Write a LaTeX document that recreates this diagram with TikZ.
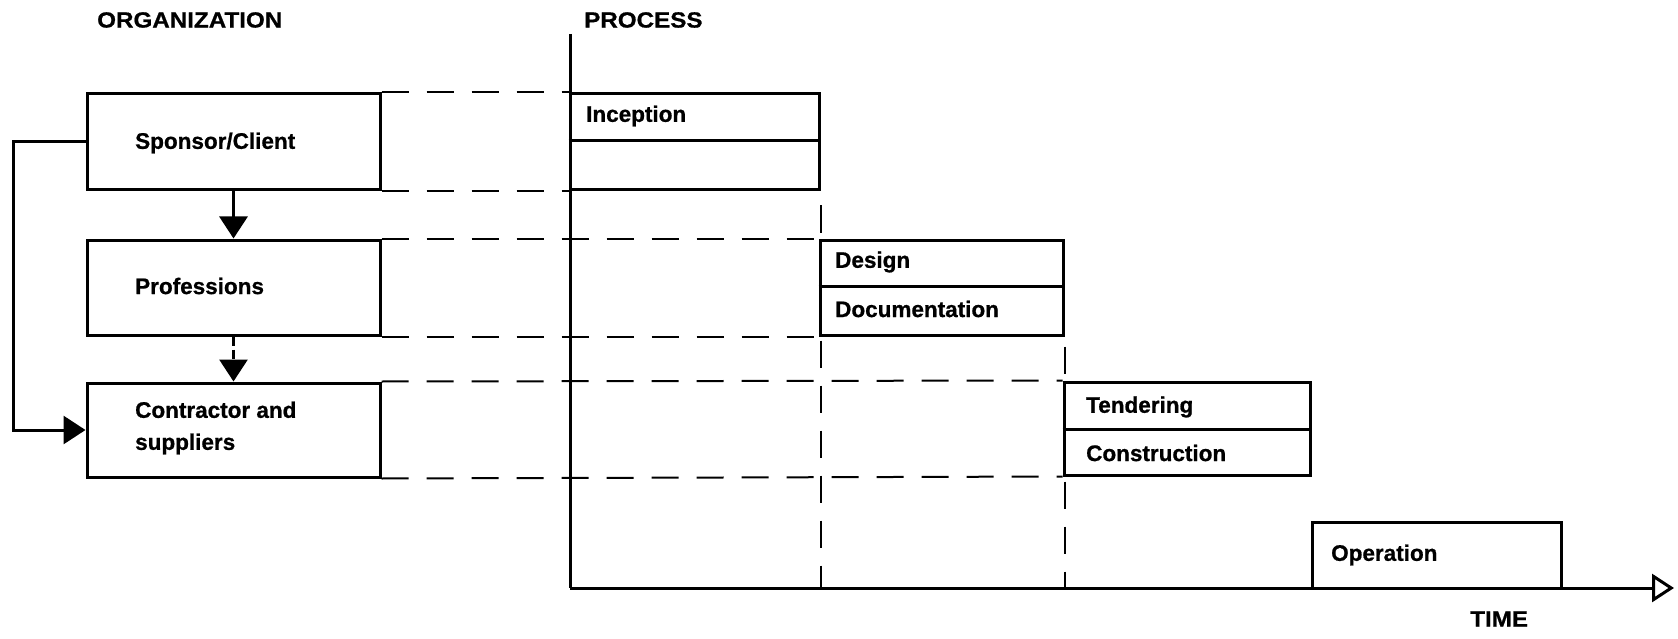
\documentclass[tikz,border=0pt]{standalone}
\usepackage{fontspec}
\setmainfont{Liberation Sans}[BoldFeatures={FakeBold=0.8}]
\newfontfamily\headfont{Liberation Sans}[BoldFeatures={FakeBold=0.8,FakeStretch=1.1}]
\usetikzlibrary{arrows.meta}
\begin{document}
\begin{tikzpicture}[x=1pt,y=-1pt,
  font=\fontsize{22.5}{27}\selectfont\bfseries,
  box/.style={draw, line width=3pt, inner sep=0pt},
  lbl/.style={anchor=west, inner sep=0pt},
  head/.style={lbl, font=\headfont\fontsize{22}{26}\selectfont\bfseries},
  guide/.style={line width=2pt, dash pattern=on 27pt off 18pt},
  axis/.style={line width=3pt},
  flow/.style={line width=3pt, -{Triangle[length=22pt,width=28pt]}}]
\useasboundingbox (0,0) rectangle (1678,639);

% headings
\node[head] (orghead) at (97,20) {ORGANIZATION};
\node[head] (prochead) at (584,20) {PROCESS};
\node[head] (timehead) at (1470,619) {TIME};

% process / time axes
\coordinate (axtop) at (570,34);
\coordinate (origin) at (570,588);
\coordinate (axend) at (1674,588);
\draw[axis] (axtop) -- (origin);
\draw[axis, -{Triangle[open,length=22pt,width=28pt,line width=3pt]}] (origin) -- (axend);

% organization boxes
\node[box, minimum width=293pt, minimum height=96pt] (spon) at (233.5,142) {};
\node[box, minimum width=293pt, minimum height=95pt] (prof) at (233.5,287.5) {};
\node[box, minimum width=293pt, minimum height=94pt] (cont) at (233.5,430) {};
\node[lbl] (spont) at (135,143) {Sponsor/Client};
\node[lbl] (proft) at (135,286) {Professions};
\node[lbl, align=left, font=\fontsize{22.5}{32}\selectfont\bfseries] (contt) at (135,428) {Contractor and\\suppliers};

% process stages
\node[box, minimum width=249pt, minimum height=96pt] (inc) at (694.5,142) {};
\node[box, minimum width=243pt, minimum height=95pt] (des) at (941.5,287.5) {};
\node[box, minimum width=246pt, minimum height=93pt] (ten) at (1187,428.5) {};
\node[box, minimum width=249pt, minimum height=66pt] (op) at (1436.5,555) {};
\draw[line width=3pt] (inc.west |- 0,141) -- (inc.east |- 0,141);
\draw[line width=3pt] (des.west |- 0,286) -- (des.east |- 0,286);
\draw[line width=3pt] (ten.west |- 0,429) -- (ten.east |- 0,429);
\node[lbl] (inct) at (586,116) {Inception};
\node[lbl] (dest) at (835,262) {Design};
\node[lbl] (doct) at (835,309) {Documentation};
\node[lbl] (tent) at (1086,407) {Tendering};
\node[lbl] (cnst) at (1086,453) {Construction};
\node[lbl] (opt) at (1331,555) {Operation};

% dashed guide lines from organization to stages
\draw[guide] (spon.north east) -- (inc.north west);
\draw[guide] (spon.south east) -- (inc.south west);
\draw[guide] (prof.north east) -- (des.north west);
\draw[guide] (prof.south east) -- (des.south west);
\draw[guide] (cont.north east) -- (ten.north west);
\draw[guide] (cont.south east) -- (ten.south west);
\draw[guide] ([yshift=-14pt]inc.south east) -- (inc.south east |- origin);
\draw[guide] ([yshift=-10pt]des.south east) -- (des.south east |- origin);

% organization flows
\draw[flow] (spon.south) -- (prof.north);
\draw[flow, dash pattern=on 9pt off 4pt] (prof.south) -- (cont.north);
\coordinate (loopl) at (13,142);
\draw[flow] (spon.west) -- (loopl) |- (cont.west);
\end{tikzpicture}
\end{document}
